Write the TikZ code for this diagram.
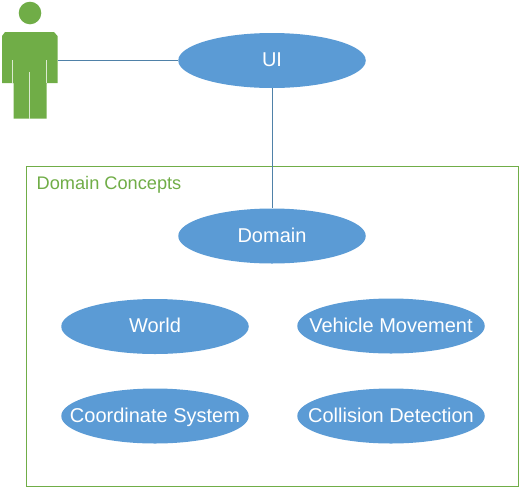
\documentclass[tikz,border=0pt]{standalone}
\usepackage{fontspec}
\setmainfont{Liberation Sans}
\usetikzlibrary{shapes.geometric}
\definecolor{blueFill}{HTML}{5B9BD5}
\definecolor{greenFill}{HTML}{70AD47}
\definecolor{lineBlue}{HTML}{4F81A8}
\newcommand{\uclabel}[1]{\makebox[0pt][c]{#1}}
\tikzset{
  usecase/.style={ellipse,fill=blueFill,draw=none,minimum width=187.5pt,minimum height=55pt,inner sep=0pt,text=white,text height=12pt,text depth=0pt,font=\fontsize{20pt}{22pt}\selectfont},
  link/.style={draw=lineBlue,line width=0.9pt},
  actorpart/.style={fill=greenFill,draw=none},
  actorgap/.style={draw=white!75!greenFill,line width=0.9pt}
}
\begin{document}
\begin{tikzpicture}[x=1pt,y=-1pt]
\useasboundingbox (0,0) rectangle (519,488);
\node[draw=greenFill,line width=1pt,outer sep=0pt,minimum width=491.5pt,minimum height=320pt,inner sep=0pt,anchor=north west] (frame) at (26.5,166.5) {};
\node[anchor=base west,inner sep=0pt,text=greenFill,font=\fontsize{18.2pt}{20pt}\selectfont] (title) at (36.5,189) {Domain Concepts};
% actor
\fill[actorpart] (30,13) circle (11.3);
\fill[actorpart] (5,32) -- (54,32) -- (57.5,36) -- (57.5,83) -- (46.5,83) -- (46.5,118.7) -- (13.7,118.7) -- (13.7,83) -- (2,83) -- (2,36) -- cycle;
\draw[actorgap] (12.8,60) -- (12.8,83);
\draw[actorgap] (46.6,60) -- (46.6,83);
\draw[actorgap] (29.5,72) -- (29.5,118.7);
\coordinate (actor) at (57.5,60.5);
\node[usecase] (ui) at (272,60.5) {\uclabel{UI}};
\node[usecase] (domain) at (272,236) {\uclabel{Domain}};
\node[usecase] (world) at (155,326.5) {\uclabel{World}};
\node[usecase] (vehicle) at (391,326) {\uclabel{Vehicle Movement}};
\node[usecase] (coord) at (155,416) {\uclabel{Coordinate System}};
\node[usecase] (collision) at (391,416) {\uclabel{Collision Detection}};
\draw[link] (actor) -- (ui.west);
\draw[link] (ui.south) -- (domain.north);
\end{tikzpicture}
\end{document}
